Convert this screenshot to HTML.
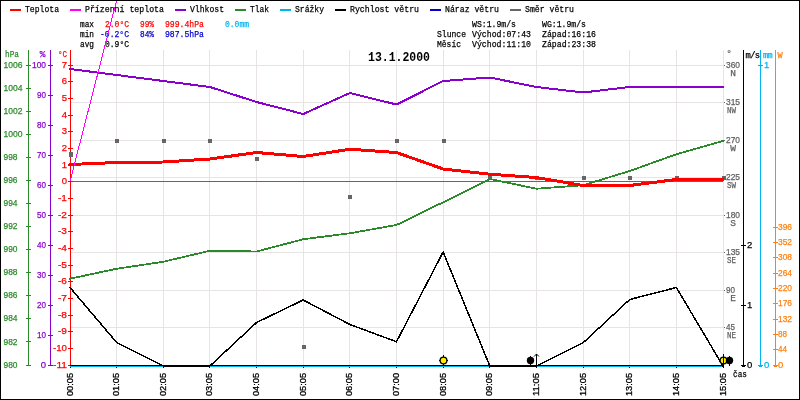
<!DOCTYPE html><html><head><meta charset="utf-8"><style>html,body{margin:0;padding:0;background:#fff;width:800px;height:400px;overflow:hidden}svg{display:block;will-change:transform}text{font-family:"Liberation Mono",monospace;font-size:9.5px;stroke-width:0.25px}text.n{font-family:"Liberation Sans",sans-serif}</style></head><body>
<svg width="800" height="400" viewBox="0 0 800 400">
<rect x="0" y="0" width="800" height="400" fill="#fff"/>
<path d="M70.5 50V365M116.5 50V365M163.5 50V365M209.5 50V365M256.5 50V365M303.5 50V365M349.5 50V365M396.5 50V365M443.5 50V365M489.5 50V365M536.5 50V365M583.5 50V365M629.5 50V365M676.5 50V365M723.5 50V365M70 65.5H723M70 102.5H723M70 140.5H723M70 177.5H723M70 215.5H723M70 252.5H723M70 290.5H723M70 327.5H723M70 365.5H723" stroke="#e8e4e4" stroke-width="1" fill="none" shape-rendering="crispEdges"/>
<path d="M70 181.5H723" stroke="#666666" stroke-width="1" shape-rendering="crispEdges"/>
<g><text x="3.5" y="67.6" fill="#2a8a2a" stroke="#2a8a2a" class="n" textLength="19" lengthAdjust="spacingAndGlyphs">1006</text>
<text x="3.5" y="90.7" fill="#2a8a2a" stroke="#2a8a2a" class="n" textLength="19" lengthAdjust="spacingAndGlyphs">1004</text>
<text x="3.5" y="113.8" fill="#2a8a2a" stroke="#2a8a2a" class="n" textLength="19" lengthAdjust="spacingAndGlyphs">1002</text>
<text x="3.5" y="136.8" fill="#2a8a2a" stroke="#2a8a2a" class="n" textLength="19" lengthAdjust="spacingAndGlyphs">1000</text>
<text x="3.5" y="159.9" fill="#2a8a2a" stroke="#2a8a2a" class="n" textLength="14" lengthAdjust="spacingAndGlyphs">998</text>
<text x="3.5" y="183.0" fill="#2a8a2a" stroke="#2a8a2a" class="n" textLength="14" lengthAdjust="spacingAndGlyphs">996</text>
<text x="3.5" y="206.1" fill="#2a8a2a" stroke="#2a8a2a" class="n" textLength="14" lengthAdjust="spacingAndGlyphs">994</text>
<text x="3.5" y="229.1" fill="#2a8a2a" stroke="#2a8a2a" class="n" textLength="14" lengthAdjust="spacingAndGlyphs">992</text>
<text x="3.5" y="252.2" fill="#2a8a2a" stroke="#2a8a2a" class="n" textLength="14" lengthAdjust="spacingAndGlyphs">990</text>
<text x="3.5" y="275.3" fill="#2a8a2a" stroke="#2a8a2a" class="n" textLength="14" lengthAdjust="spacingAndGlyphs">988</text>
<text x="3.5" y="298.4" fill="#2a8a2a" stroke="#2a8a2a" class="n" textLength="14" lengthAdjust="spacingAndGlyphs">986</text>
<text x="3.5" y="321.4" fill="#2a8a2a" stroke="#2a8a2a" class="n" textLength="14" lengthAdjust="spacingAndGlyphs">984</text>
<text x="3.5" y="344.5" fill="#2a8a2a" stroke="#2a8a2a" class="n" textLength="14" lengthAdjust="spacingAndGlyphs">982</text>
<text x="3.5" y="367.6" fill="#2a8a2a" stroke="#2a8a2a" class="n" textLength="14" lengthAdjust="spacingAndGlyphs">980</text>
<text x="5" y="56.7" fill="#2a8a2a" stroke="#2a8a2a" textLength="14" lengthAdjust="spacingAndGlyphs">hPa</text>
<text x="46" y="67.6" fill="#8800cc" stroke="#8800cc" class="n" text-anchor="end" textLength="14" lengthAdjust="spacingAndGlyphs">100</text>
<text x="46" y="97.6" fill="#8800cc" stroke="#8800cc" class="n" text-anchor="end" textLength="9" lengthAdjust="spacingAndGlyphs">90</text>
<text x="46" y="127.6" fill="#8800cc" stroke="#8800cc" class="n" text-anchor="end" textLength="9" lengthAdjust="spacingAndGlyphs">80</text>
<text x="46" y="157.6" fill="#8800cc" stroke="#8800cc" class="n" text-anchor="end" textLength="9" lengthAdjust="spacingAndGlyphs">70</text>
<text x="46" y="187.6" fill="#8800cc" stroke="#8800cc" class="n" text-anchor="end" textLength="9" lengthAdjust="spacingAndGlyphs">60</text>
<text x="46" y="217.6" fill="#8800cc" stroke="#8800cc" class="n" text-anchor="end" textLength="9" lengthAdjust="spacingAndGlyphs">50</text>
<text x="46" y="247.6" fill="#8800cc" stroke="#8800cc" class="n" text-anchor="end" textLength="9" lengthAdjust="spacingAndGlyphs">40</text>
<text x="46" y="277.6" fill="#8800cc" stroke="#8800cc" class="n" text-anchor="end" textLength="9" lengthAdjust="spacingAndGlyphs">30</text>
<text x="46" y="307.6" fill="#8800cc" stroke="#8800cc" class="n" text-anchor="end" textLength="9" lengthAdjust="spacingAndGlyphs">20</text>
<text x="46" y="337.6" fill="#8800cc" stroke="#8800cc" class="n" text-anchor="end" textLength="9" lengthAdjust="spacingAndGlyphs">10</text>
<text x="46" y="367.6" fill="#8800cc" stroke="#8800cc" class="n" text-anchor="end">0</text>
<text x="45.5" y="56.7" fill="#8800cc" stroke="#8800cc" text-anchor="end">%</text>
<text x="67" y="67.6" fill="#ff0000" stroke="#ff0000" class="n" text-anchor="end">7</text>
<text x="67" y="84.3" fill="#ff0000" stroke="#ff0000" class="n" text-anchor="end">6</text>
<text x="67" y="100.9" fill="#ff0000" stroke="#ff0000" class="n" text-anchor="end">5</text>
<text x="67" y="117.6" fill="#ff0000" stroke="#ff0000" class="n" text-anchor="end">4</text>
<text x="67" y="134.3" fill="#ff0000" stroke="#ff0000" class="n" text-anchor="end">3</text>
<text x="67" y="150.9" fill="#ff0000" stroke="#ff0000" class="n" text-anchor="end">2</text>
<text x="67" y="167.6" fill="#ff0000" stroke="#ff0000" class="n" text-anchor="end">1</text>
<text x="67" y="184.3" fill="#ff0000" stroke="#ff0000" class="n" text-anchor="end">0</text>
<text x="67" y="200.9" fill="#ff0000" stroke="#ff0000" class="n" text-anchor="end" textLength="9" lengthAdjust="spacingAndGlyphs">-1</text>
<text x="67" y="217.6" fill="#ff0000" stroke="#ff0000" class="n" text-anchor="end" textLength="9" lengthAdjust="spacingAndGlyphs">-2</text>
<text x="67" y="234.3" fill="#ff0000" stroke="#ff0000" class="n" text-anchor="end" textLength="9" lengthAdjust="spacingAndGlyphs">-3</text>
<text x="67" y="250.9" fill="#ff0000" stroke="#ff0000" class="n" text-anchor="end" textLength="9" lengthAdjust="spacingAndGlyphs">-4</text>
<text x="67" y="267.6" fill="#ff0000" stroke="#ff0000" class="n" text-anchor="end" textLength="9" lengthAdjust="spacingAndGlyphs">-5</text>
<text x="67" y="284.3" fill="#ff0000" stroke="#ff0000" class="n" text-anchor="end" textLength="9" lengthAdjust="spacingAndGlyphs">-6</text>
<text x="67" y="300.9" fill="#ff0000" stroke="#ff0000" class="n" text-anchor="end" textLength="9" lengthAdjust="spacingAndGlyphs">-7</text>
<text x="67" y="317.6" fill="#ff0000" stroke="#ff0000" class="n" text-anchor="end" textLength="9" lengthAdjust="spacingAndGlyphs">-8</text>
<text x="67" y="334.3" fill="#ff0000" stroke="#ff0000" class="n" text-anchor="end" textLength="9" lengthAdjust="spacingAndGlyphs">-9</text>
<text x="67" y="350.9" fill="#ff0000" stroke="#ff0000" class="n" text-anchor="end" textLength="14" lengthAdjust="spacingAndGlyphs">-10</text>
<text x="67" y="367.6" fill="#ff0000" stroke="#ff0000" class="n" text-anchor="end" textLength="14" lengthAdjust="spacingAndGlyphs">-11</text>
<text x="67" y="56.7" fill="#ff0000" stroke="#ff0000" text-anchor="end" textLength="9" lengthAdjust="spacingAndGlyphs">°C</text>
<text x="726" y="67.6" fill="#606060" stroke="#606060" class="n" textLength="14" lengthAdjust="spacingAndGlyphs">360</text>
<text x="736" y="75.6" fill="#606060" stroke="#606060" text-anchor="end">N</text>
<text x="726" y="105.1" fill="#606060" stroke="#606060" class="n" textLength="14" lengthAdjust="spacingAndGlyphs">315</text>
<text x="736" y="113.1" fill="#606060" stroke="#606060" text-anchor="end" textLength="9" lengthAdjust="spacingAndGlyphs">NW</text>
<text x="726" y="142.6" fill="#606060" stroke="#606060" class="n" textLength="14" lengthAdjust="spacingAndGlyphs">270</text>
<text x="736" y="150.6" fill="#606060" stroke="#606060" text-anchor="end">W</text>
<text x="726" y="180.1" fill="#606060" stroke="#606060" class="n" textLength="14" lengthAdjust="spacingAndGlyphs">225</text>
<text x="736" y="188.1" fill="#606060" stroke="#606060" text-anchor="end" textLength="9" lengthAdjust="spacingAndGlyphs">SW</text>
<text x="726" y="217.6" fill="#606060" stroke="#606060" class="n" textLength="14" lengthAdjust="spacingAndGlyphs">180</text>
<text x="736" y="225.6" fill="#606060" stroke="#606060" text-anchor="end">S</text>
<text x="726" y="255.1" fill="#606060" stroke="#606060" class="n" textLength="14" lengthAdjust="spacingAndGlyphs">135</text>
<text x="736" y="263.1" fill="#606060" stroke="#606060" text-anchor="end" textLength="9" lengthAdjust="spacingAndGlyphs">SE</text>
<text x="726" y="292.6" fill="#606060" stroke="#606060" class="n" textLength="9" lengthAdjust="spacingAndGlyphs">90</text>
<text x="736" y="300.6" fill="#606060" stroke="#606060" text-anchor="end">E</text>
<text x="726" y="330.1" fill="#606060" stroke="#606060" class="n" textLength="9" lengthAdjust="spacingAndGlyphs">45</text>
<text x="736" y="338.1" fill="#606060" stroke="#606060" text-anchor="end" textLength="9" lengthAdjust="spacingAndGlyphs">NE</text>
<text x="726.3" y="56" fill="#606060" stroke="#606060">°</text>
<text x="747" y="367.8" fill="#000" stroke="#000" class="n">0</text>
<text x="747" y="307.8" fill="#000" stroke="#000" class="n">1</text>
<text x="747" y="247.8" fill="#000" stroke="#000" class="n">2</text>
<text x="745.5" y="57.5" fill="#000" stroke="#000" textLength="14" lengthAdjust="spacingAndGlyphs" style="font-size:8.5px;letter-spacing:-0.6px">m/s</text>
<text x="764" y="367.8" fill="#00b4f0" stroke="#00b4f0" class="n">0</text>
<text x="764" y="67.8" fill="#00b4f0" stroke="#00b4f0" class="n">1</text>
<text x="763" y="57.5" fill="#00b4f0" stroke="#00b4f0" textLength="9" lengthAdjust="spacingAndGlyphs" style="font-size:8.5px;letter-spacing:-0.6px">mm</text>
<text x="778" y="367.6" fill="#ff8010" stroke="#ff8010" class="n">0</text>
<text x="778" y="352.3" fill="#ff8010" stroke="#ff8010" class="n" textLength="9" lengthAdjust="spacingAndGlyphs">44</text>
<text x="778" y="336.9" fill="#ff8010" stroke="#ff8010" class="n" textLength="9" lengthAdjust="spacingAndGlyphs">88</text>
<text x="778" y="321.6" fill="#ff8010" stroke="#ff8010" class="n" textLength="14" lengthAdjust="spacingAndGlyphs">132</text>
<text x="778" y="306.3" fill="#ff8010" stroke="#ff8010" class="n" textLength="14" lengthAdjust="spacingAndGlyphs">176</text>
<text x="778" y="290.9" fill="#ff8010" stroke="#ff8010" class="n" textLength="14" lengthAdjust="spacingAndGlyphs">220</text>
<text x="778" y="275.6" fill="#ff8010" stroke="#ff8010" class="n" textLength="14" lengthAdjust="spacingAndGlyphs">264</text>
<text x="778" y="260.3" fill="#ff8010" stroke="#ff8010" class="n" textLength="14" lengthAdjust="spacingAndGlyphs">308</text>
<text x="778" y="244.9" fill="#ff8010" stroke="#ff8010" class="n" textLength="14" lengthAdjust="spacingAndGlyphs">352</text>
<text x="778" y="229.6" fill="#ff8010" stroke="#ff8010" class="n" textLength="14" lengthAdjust="spacingAndGlyphs">396</text>
<text x="777.5" y="57.5" fill="#ff8010" stroke="#ff8010" style="font-size:8.5px">W</text>
<text x="0" y="0" fill="#000" stroke="#000" class="n" style="stroke-width:0.3px" textLength="23" lengthAdjust="spacingAndGlyphs" transform="translate(73.3,396) rotate(-90)">00:05</text>
<text x="0" y="0" fill="#000" stroke="#000" class="n" style="stroke-width:0.3px" textLength="23" lengthAdjust="spacingAndGlyphs" transform="translate(119.3,396) rotate(-90)">01:05</text>
<text x="0" y="0" fill="#000" stroke="#000" class="n" style="stroke-width:0.3px" textLength="23" lengthAdjust="spacingAndGlyphs" transform="translate(166.3,396) rotate(-90)">02:05</text>
<text x="0" y="0" fill="#000" stroke="#000" class="n" style="stroke-width:0.3px" textLength="23" lengthAdjust="spacingAndGlyphs" transform="translate(212.3,396) rotate(-90)">03:05</text>
<text x="0" y="0" fill="#000" stroke="#000" class="n" style="stroke-width:0.3px" textLength="23" lengthAdjust="spacingAndGlyphs" transform="translate(259.3,396) rotate(-90)">04:05</text>
<text x="0" y="0" fill="#000" stroke="#000" class="n" style="stroke-width:0.3px" textLength="23" lengthAdjust="spacingAndGlyphs" transform="translate(306.3,396) rotate(-90)">05:05</text>
<text x="0" y="0" fill="#000" stroke="#000" class="n" style="stroke-width:0.3px" textLength="23" lengthAdjust="spacingAndGlyphs" transform="translate(352.3,396) rotate(-90)">06:05</text>
<text x="0" y="0" fill="#000" stroke="#000" class="n" style="stroke-width:0.3px" textLength="23" lengthAdjust="spacingAndGlyphs" transform="translate(399.3,396) rotate(-90)">07:00</text>
<text x="0" y="0" fill="#000" stroke="#000" class="n" style="stroke-width:0.3px" textLength="23" lengthAdjust="spacingAndGlyphs" transform="translate(446.3,396) rotate(-90)">08:05</text>
<text x="0" y="0" fill="#000" stroke="#000" class="n" style="stroke-width:0.3px" textLength="23" lengthAdjust="spacingAndGlyphs" transform="translate(492.3,396) rotate(-90)">09:05</text>
<text x="0" y="0" fill="#000" stroke="#000" class="n" style="stroke-width:0.3px" textLength="23" lengthAdjust="spacingAndGlyphs" transform="translate(539.3,396) rotate(-90)">11:05</text>
<text x="0" y="0" fill="#000" stroke="#000" class="n" style="stroke-width:0.3px" textLength="23" lengthAdjust="spacingAndGlyphs" transform="translate(586.3,396) rotate(-90)">12:05</text>
<text x="0" y="0" fill="#000" stroke="#000" class="n" style="stroke-width:0.3px" textLength="23" lengthAdjust="spacingAndGlyphs" transform="translate(632.3,396) rotate(-90)">13:05</text>
<text x="0" y="0" fill="#000" stroke="#000" class="n" style="stroke-width:0.3px" textLength="23" lengthAdjust="spacingAndGlyphs" transform="translate(679.3,396) rotate(-90)">14:05</text>
<text x="0" y="0" fill="#000" stroke="#000" class="n" style="stroke-width:0.3px" textLength="23" lengthAdjust="spacingAndGlyphs" transform="translate(726.3,396) rotate(-90)">15:05</text>
<text x="733" y="377" fill="#000" stroke="#000" textLength="14" lengthAdjust="spacingAndGlyphs">čas</text>
<text x="25" y="12" fill="#000" stroke="#000" textLength="34" lengthAdjust="spacingAndGlyphs">Teplota</text>
<text x="85" y="12" fill="#000" stroke="#000" textLength="79" lengthAdjust="spacingAndGlyphs">Přízenní teplota</text>
<text x="190" y="12" fill="#000" stroke="#000" textLength="34" lengthAdjust="spacingAndGlyphs">Vlhkost</text>
<text x="250" y="12" fill="#000" stroke="#000" textLength="19" lengthAdjust="spacingAndGlyphs">Tlak</text>
<text x="295" y="12" fill="#000" stroke="#000" textLength="29" lengthAdjust="spacingAndGlyphs">Srážky</text>
<text x="350" y="12" fill="#000" stroke="#000" textLength="69" lengthAdjust="spacingAndGlyphs">Rychlost větru</text>
<text x="445" y="12" fill="#000" stroke="#000" textLength="54" lengthAdjust="spacingAndGlyphs">Náraz větru</text>
<text x="525" y="12" fill="#000" stroke="#000" textLength="49" lengthAdjust="spacingAndGlyphs">Směr větru</text>
<text x="80" y="27" fill="#000" stroke="#000" textLength="14" lengthAdjust="spacingAndGlyphs">max</text>
<text x="80" y="37" fill="#000" stroke="#000" textLength="14" lengthAdjust="spacingAndGlyphs">min</text>
<text x="80" y="47" fill="#000" stroke="#000" textLength="14" lengthAdjust="spacingAndGlyphs">avg</text>
<text x="105" y="27" fill="#ff0000" stroke="#ff0000" textLength="24" lengthAdjust="spacingAndGlyphs">2.0°C</text>
<text x="140" y="27" fill="#ff0000" stroke="#ff0000" textLength="14" lengthAdjust="spacingAndGlyphs">99%</text>
<text x="165" y="27" fill="#ff0000" stroke="#ff0000" textLength="39" lengthAdjust="spacingAndGlyphs">999.4hPa</text>
<text x="225" y="27" fill="#00b4f0" stroke="#00b4f0" textLength="24" lengthAdjust="spacingAndGlyphs">0.0mm</text>
<text x="100" y="37" fill="#0000d0" stroke="#0000d0" textLength="29" lengthAdjust="spacingAndGlyphs">-0.2°C</text>
<text x="140" y="37" fill="#0000d0" stroke="#0000d0" textLength="14" lengthAdjust="spacingAndGlyphs">84%</text>
<text x="165" y="37" fill="#0000d0" stroke="#0000d0" textLength="39" lengthAdjust="spacingAndGlyphs">987.5hPa</text>
<text x="105" y="47" fill="#000" stroke="#000" textLength="24" lengthAdjust="spacingAndGlyphs">0.9°C</text>
<text x="472" y="27" fill="#000" stroke="#000" textLength="44" lengthAdjust="spacingAndGlyphs">WS:1.9m/s</text>
<text x="542" y="27" fill="#000" stroke="#000" textLength="44" lengthAdjust="spacingAndGlyphs">WG:1.9m/s</text>
<text x="437" y="37" fill="#000" stroke="#000" textLength="29" lengthAdjust="spacingAndGlyphs">Slunce</text>
<text x="472" y="37" fill="#000" stroke="#000" textLength="59" lengthAdjust="spacingAndGlyphs">Východ:07:43</text>
<text x="542" y="37" fill="#000" stroke="#000" textLength="54" lengthAdjust="spacingAndGlyphs">Západ:16:16</text>
<text x="437" y="47" fill="#000" stroke="#000" textLength="24" lengthAdjust="spacingAndGlyphs">Měsíc</text>
<text x="472" y="47" fill="#000" stroke="#000" textLength="59" lengthAdjust="spacingAndGlyphs">Východ:11:10</text>
<text x="542" y="47" fill="#000" stroke="#000" textLength="54" lengthAdjust="spacingAndGlyphs">Západ:23:38</text>
<text x="368" y="61.3" fill="#000" textLength="62" lengthAdjust="spacingAndGlyphs" style="font-weight:bold;font-size:13px">13.1.2000</text></g>
<path d="M28.5 50V366M26 65.5H31M26 88.5H31M26 111.5H31M26 134.5H31M26 157.5H31M26 180.5H31M26 203.5H31M26 226.5H31M26 249.5H31M26 272.5H31M26 295.5H31M26 318.5H31M26 341.5H31M26 365.5H31" stroke="#2a8a2a" stroke-width="1" shape-rendering="crispEdges"/>
<path d="M50.5 50V366M48 65.5H53M48 95.5H53M48 125.5H53M48 155.5H53M48 185.5H53M48 215.5H53M48 245.5H53M48 275.5H53M48 305.5H53M48 335.5H53M48 365.5H53" stroke="#8800cc" stroke-width="1" shape-rendering="crispEdges"/>
<path d="M70.5 50V366M68 65.5H73M68 81.5H73M68 98.5H73M68 115.5H73M68 131.5H73M68 148.5H73M68 165.5H73M68 181.5H73M68 198.5H73M68 215.5H73M68 231.5H73M68 248.5H73M68 265.5H73M68 281.5H73M68 298.5H73M68 315.5H73M68 331.5H73M68 348.5H73M68 365.5H73" stroke="#ff0000" stroke-width="1" shape-rendering="crispEdges"/>
<path d="M70 366.5H723" stroke="#00b4f0" stroke-width="1" shape-rendering="crispEdges"/>
<path d="M70 365.5H723" stroke="#000" stroke-width="1" shape-rendering="crispEdges"/>
<rect x="69" y="152" width="4" height="5" fill="#666666"/>
<rect x="115" y="139" width="4" height="4" fill="#666666"/>
<rect x="162" y="139" width="4" height="4" fill="#666666"/>
<rect x="208" y="139" width="4" height="4" fill="#666666"/>
<rect x="255" y="157" width="4" height="4" fill="#666666"/>
<rect x="302" y="345" width="4" height="4" fill="#666666"/>
<rect x="348" y="195" width="4" height="4" fill="#666666"/>
<rect x="395" y="139" width="4" height="4" fill="#666666"/>
<rect x="442" y="139" width="4" height="4" fill="#666666"/>
<rect x="488" y="176" width="4" height="4" fill="#666666"/>
<rect x="535" y="176" width="4" height="4" fill="#666666"/>
<rect x="582" y="176" width="4" height="4" fill="#666666"/>
<rect x="628" y="176" width="4" height="4" fill="#666666"/>
<rect x="675" y="176" width="4" height="4" fill="#666666"/>
<rect x="722" y="176" width="4" height="4" fill="#666666"/>
<polyline points="70.00,278.75 116.64,268.75 163.29,261.75 209.93,250.75 256.57,251.5 303.21,239.25 349.86,233.25 396.50,225 443.14,202.25 489.79,179 536.43,188.75 583.07,185.2 629.71,171 676.36,154.25 723.00,141" fill="none" stroke="#2a8a2a" stroke-width="1.8" stroke-linejoin="round" stroke-linecap="round" shape-rendering="crispEdges"/>
<polyline points="70.00,69 116.64,75 163.29,81 209.93,87 256.57,102 303.21,114 349.86,93 396.50,104.5 443.14,81 489.79,77.5 536.43,87 583.07,92.5 629.71,87 676.36,87 723.00,87" fill="none" stroke="#8800cc" stroke-width="2" stroke-linejoin="round" stroke-linecap="round" shape-rendering="crispEdges"/>
<polyline points="70.00,287.5 116.64,342.5 163.29,366 209.93,366 256.57,322.5 303.21,300 349.86,324.5 396.50,341.75 443.14,252 489.79,366 536.43,366 583.07,342.8 629.71,299.5 676.36,287.5 723.00,366" fill="none" stroke="#000" stroke-width="1.5" stroke-linejoin="round" stroke-linecap="round" shape-rendering="crispEdges"/>
<polyline points="70.00,164.5 116.64,162.5 163.29,162 209.93,159 256.57,152.5 303.21,156.5 349.86,149.25 396.50,152.5 443.14,169 489.79,174.25 536.43,177.5 583.07,185.5 629.71,185.5 676.36,179.5 723.00,179.5" fill="none" stroke="#ff0000" stroke-width="3" stroke-linejoin="round" stroke-linecap="round" shape-rendering="crispEdges"/>
<line x1="70" y1="181.5" x2="118" y2="-5" stroke="#ff00ff" stroke-width="1" shape-rendering="crispEdges"/>
<path d="M443.5 355V357M443.5 364V366M439 360.5H441M446 360.5H448" stroke="#000" stroke-width="1" shape-rendering="crispEdges"/>
<circle cx="443.5" cy="360.5" r="3.4" fill="#ffee00" stroke="#000" stroke-width="1.3"/>
<path d="M530.5 355.5V357M530.5 363V366" stroke="#000" stroke-width="1" shape-rendering="crispEdges"/>
<circle cx="530.5" cy="360.5" r="3.7" fill="#000"/>
<path d="M536.5 354V367.5M534 356.5L536.5 354L539 356.5" stroke="#000" stroke-width="1" fill="none"/>
<path d="M723.5 355V357M723.5 364V366M719 360.5H721M726 360.5H728" stroke="#000" stroke-width="1" shape-rendering="crispEdges"/>
<circle cx="723.5" cy="360.5" r="3.4" fill="#ffee00" stroke="#000" stroke-width="1.3"/>
<path d="M729.5 355.5V357M729.5 363V366" stroke="#000" stroke-width="1" shape-rendering="crispEdges"/>
<circle cx="729.5" cy="360.5" r="3.7" fill="#000"/>
<path d="M723.5 354V367.5" stroke="#000" stroke-width="1" shape-rendering="crispEdges"/>
<rect x="724" y="65" width="1" height="1" fill="#606060"/>
<rect x="724" y="102" width="1" height="1" fill="#606060"/>
<rect x="724" y="140" width="1" height="1" fill="#606060"/>
<rect x="724" y="177" width="1" height="1" fill="#606060"/>
<rect x="724" y="215" width="1" height="1" fill="#606060"/>
<rect x="724" y="252" width="1" height="1" fill="#606060"/>
<rect x="724" y="290" width="1" height="1" fill="#606060"/>
<rect x="724" y="327" width="1" height="1" fill="#606060"/>
<path d="M743.5 50V367M742 366.5H745M741 365.5H746M741 305.5H746M741 245.5H746" stroke="#000" stroke-width="1" shape-rendering="crispEdges"/>
<path d="M760.5 50V367M759 366.5H762M758 365.5H763M758 65.5H763" stroke="#00b4f0" stroke-width="1" shape-rendering="crispEdges"/>
<path d="M775.5 50V367M774 366.5H777M773 365.5H778M773 349.5H778M773 334.5H778M773 319.5H778M773 303.5H778M773 288.5H778M773 273.5H778M773 257.5H778M773 242.5H778M773 227.5H778" stroke="#ff8010" stroke-width="1" shape-rendering="crispEdges"/>
<path d="M70.5 366.5V368" stroke="#000" stroke-width="1" shape-rendering="crispEdges"/>
<path d="M116.5 366.5V368" stroke="#000" stroke-width="1" shape-rendering="crispEdges"/>
<path d="M163.5 366.5V368" stroke="#000" stroke-width="1" shape-rendering="crispEdges"/>
<path d="M209.5 366.5V368" stroke="#000" stroke-width="1" shape-rendering="crispEdges"/>
<path d="M256.5 366.5V368" stroke="#000" stroke-width="1" shape-rendering="crispEdges"/>
<path d="M303.5 366.5V368" stroke="#000" stroke-width="1" shape-rendering="crispEdges"/>
<path d="M349.5 366.5V368" stroke="#000" stroke-width="1" shape-rendering="crispEdges"/>
<path d="M396.5 366.5V368" stroke="#000" stroke-width="1" shape-rendering="crispEdges"/>
<path d="M443.5 366.5V368" stroke="#000" stroke-width="1" shape-rendering="crispEdges"/>
<path d="M489.5 366.5V368" stroke="#000" stroke-width="1" shape-rendering="crispEdges"/>
<path d="M536.5 366.5V368" stroke="#000" stroke-width="1" shape-rendering="crispEdges"/>
<path d="M583.5 366.5V368" stroke="#000" stroke-width="1" shape-rendering="crispEdges"/>
<path d="M629.5 366.5V368" stroke="#000" stroke-width="1" shape-rendering="crispEdges"/>
<path d="M676.5 366.5V368" stroke="#000" stroke-width="1" shape-rendering="crispEdges"/>
<path d="M723.5 366.5V368" stroke="#000" stroke-width="1" shape-rendering="crispEdges"/>
<rect x="10" y="9" width="11" height="2" fill="#ff0000"/>
<rect x="70" y="9" width="11" height="2" fill="#ff00ff"/>
<rect x="175" y="9" width="11" height="2" fill="#8800cc"/>
<rect x="235" y="9" width="11" height="2" fill="#2a8a2a"/>
<rect x="280" y="9" width="11" height="2" fill="#00b4f0"/>
<rect x="335" y="9" width="11" height="2" fill="#000"/>
<rect x="430" y="9" width="11" height="2" fill="#0000d0"/>
<rect x="510" y="9" width="11" height="2" fill="#666666"/>
<rect x="0.5" y="0.5" width="799" height="399" fill="none" stroke="#000" stroke-width="1" shape-rendering="crispEdges"/>
</svg></body></html>
